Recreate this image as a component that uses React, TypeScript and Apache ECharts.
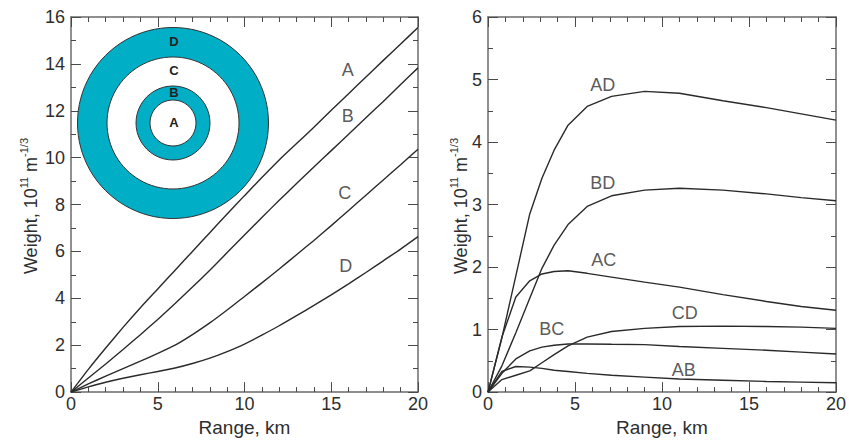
import React, { useEffect, useRef } from "react";
import * as echarts from "echarts";

// ---------- data ----------
const leftX = [0, 1, 2, 3, 4, 5, 6, 7, 8, 9, 10, 11, 12, 13, 14, 15, 16, 17, 18, 19, 20];
const leftA = [0, 0.97, 1.88, 2.76, 3.6, 4.4, 5.2, 6.0, 6.8, 7.6, 8.38, 9.15, 9.9, 10.6, 11.3, 12.02, 12.73, 13.44, 14.15, 14.85, 15.55];
const leftB = [0, 0.6, 1.2, 1.82, 2.45, 3.1, 3.78, 4.48, 5.2, 5.95, 6.7, 7.45, 8.18, 8.9, 9.6, 10.3, 11.0, 11.7, 12.4, 13.12, 13.83];
const leftC = [0, 0.35, 0.68, 1.0, 1.32, 1.65, 2.0, 2.45, 2.95, 3.5, 4.08, 4.66, 5.25, 5.86, 6.47, 7.1, 7.75, 8.4, 9.05, 9.7, 10.36];
const leftD = [0, 0.22, 0.42, 0.59, 0.74, 0.88, 1.03, 1.22, 1.45, 1.73, 2.05, 2.43, 2.83, 3.26, 3.7, 4.15, 4.62, 5.1, 5.6, 6.1, 6.63];

const rightX = [0, 0.8, 1.6, 2.4, 3.1, 3.8, 4.6, 5.7, 7.1, 9.0, 11.0, 13.5, 16.0, 18.0, 20];
const rightAD = [0, 0.87, 1.86, 2.85, 3.42, 3.87, 4.27, 4.57, 4.73, 4.81, 4.78, 4.66, 4.55, 4.45, 4.35];
const rightBD = [0, 0.42, 0.95, 1.5, 1.98, 2.35, 2.68, 2.97, 3.14, 3.23, 3.26, 3.23, 3.17, 3.11, 3.06];
const rightAC = [0, 0.88, 1.52, 1.78, 1.89, 1.93, 1.94, 1.9, 1.84, 1.76, 1.68, 1.56, 1.45, 1.37, 1.31];
const rightBC = [0, 0.3, 0.53, 0.66, 0.72, 0.75, 0.77, 0.77, 0.765, 0.76, 0.73, 0.7, 0.67, 0.64, 0.61];
const rightCD = [0, 0.2, 0.27, 0.34, 0.47, 0.6, 0.74, 0.88, 0.97, 1.02, 1.05, 1.055, 1.05, 1.04, 1.02];
const rightAB = [0, 0.33, 0.41, 0.4, 0.38, 0.35, 0.33, 0.3, 0.27, 0.24, 0.21, 0.19, 0.17, 0.16, 0.15];

const leftLabels = [
  { name: "A", value: [15.95, 13.76] },
  { name: "B", value: [15.95, 11.78] },
  { name: "C", value: [15.78, 8.48] },
  { name: "D", value: [15.84, 5.4] },
];
const rightLabels = [
  { name: "AD", value: [6.6, 4.92] },
  { name: "BD", value: [6.6, 3.34] },
  { name: "AC", value: [6.65, 2.12] },
  { name: "BC", value: [3.66, 1.01] },
  { name: "CD", value: [11.31, 1.27] },
  { name: "AB", value: [11.25, 0.36] },
];

const ringLabels = ["D", "C", "B", "A"];

// ---------- styling ----------
const FONT = "'Liberation Sans', Arial, Helvetica, sans-serif";
const AXIS_COLOR = "#6b6b6b";
const TICK_COLOR = "#4a4a4a";
const TEXT_COLOR = "#2e2e2e";
const LINE_COLOR = "#2a2a2a";
const TEAL = "#00AEC6";

const pair = (xs: number[], ys: number[]) => xs.map((x, i) => [x, ys[i]]);

function xAxisDef(gridIndex: number, position: "top" | "bottom") {
  const bottom = position === "bottom";
  return {
    type: "value",
    gridIndex,
    position,
    min: 0,
    max: 20,
    interval: 5,
    name: bottom ? "Range, km" : "",
    nameLocation: "middle",
    nameGap: 24,
    nameTextStyle: { fontSize: 19, color: TEXT_COLOR, fontFamily: FONT },
    axisLine: { show: true, onZero: false, lineStyle: { color: AXIS_COLOR, width: 1.5 } },
    axisTick: { show: true, inside: true, length: 10, lineStyle: { color: TICK_COLOR, width: 1 } },
    minorTick: { show: true, splitNumber: 5, length: 5, lineStyle: { color: TICK_COLOR, width: 1 } },
    splitLine: { show: false },
    minorSplitLine: { show: false },
    axisLabel: {
      show: bottom,
      margin: 3,
      fontSize: 18,
      color: TEXT_COLOR,
      fontFamily: FONT,
    },
  };
}

function yAxisDef(gridIndex: number, position: "left" | "right", max: number, interval: number) {
  const left = position === "left";
  return {
    type: "value",
    gridIndex,
    position,
    min: 0,
    max,
    interval,
    axisLine: { show: true, onZero: false, lineStyle: { color: AXIS_COLOR, width: 1.5 } },
    axisTick: { show: true, inside: true, length: 10, lineStyle: { color: TICK_COLOR, width: 1 } },
    minorTick: { show: true, splitNumber: 2, length: 5, lineStyle: { color: TICK_COLOR, width: 1 } },
    splitLine: { show: false },
    minorSplitLine: { show: false },
    axisLabel: {
      show: left,
      margin: 6,
      fontSize: 18,
      color: TEXT_COLOR,
      fontFamily: FONT,
    },
  };
}

function lineSeries(name: string, xIdx: number, yIdx: number, data: number[][], smooth: boolean | number) {
  return {
    name,
    type: "line",
    xAxisIndex: xIdx,
    yAxisIndex: yIdx,
    data,
    smooth,
    showSymbol: false,
    symbol: "none",
    silent: true,
    lineStyle: { color: LINE_COLOR, width: 1.4 },
  };
}

function labelSeries(xIdx: number, yIdx: number, data: any[]) {
  return {
    type: "scatter",
    xAxisIndex: xIdx,
    yAxisIndex: yIdx,
    symbolSize: 0,
    silent: true,
    data,
    label: {
      show: true,
      position: "inside",
      formatter: "{b}",
      fontSize: 18,
      color: TEXT_COLOR,
      fontFamily: FONT,
    },
  };
}

function yName(x: number, y: number) {
  return {
    type: "text",
    x,
    y,
    rotation: Math.PI / 2,
    style: {
      text: "{m|Weight, 10}{s|11}{m| m}{s|-1/3}",
      align: "center",
      verticalAlign: "middle",
      fontFamily: FONT,
      rich: {
        m: { fontSize: 18, fill: TEXT_COLOR, fontFamily: FONT, lineHeight: 22, verticalAlign: "bottom" },
        s: { fontSize: 11, fill: TEXT_COLOR, fontFamily: FONT, lineHeight: 22, verticalAlign: "top" },
      },
    },
  };
}

// inset target (decorative illustration)
const ringCx = 173;
const ringCy = 123;
const ringRadii = [95.5, 66, 37, 23];
const ringFills = [TEAL, "#ffffff", TEAL, "#ffffff"];
const ringLabelY = [41, 70, 92, 122];

export default function App() {
  const ref = useRef<HTMLDivElement>(null);

  useEffect(() => {
    if (!ref.current) return;
    const chart = echarts.init(ref.current, undefined, { renderer: "svg" });

    const graphics: any[] = [];
    ringRadii.forEach((r, i) => {
      graphics.push({
        type: "circle",
        shape: { cx: ringCx, cy: ringCy, r },
        style: { fill: ringFills[i], stroke: "#333", lineWidth: 1 },
        z: 10,
      });
    });
    ringLabels.forEach((t, i) => {
      graphics.push({
        type: "text",
        x: ringCx + 1,
        y: ringLabelY[i],
        z: 11,
        style: {
          text: t,
          align: "center",
          verticalAlign: "middle",
          fontSize: 13,
          fontWeight: "bold",
          fill: "#222",
          fontFamily: FONT,
        },
      });
    });
    graphics.push(yName(29, 206));
    graphics.push(yName(459, 206));

    chart.setOption({
      animation: false,
      backgroundColor: "#ffffff",
      grid: [
        { left: 71, top: 17, width: 347, height: 379 },
        { left: 488, top: 17, width: 348, height: 379 },
      ],
      xAxis: [xAxisDef(0, "bottom"), xAxisDef(0, "top"), xAxisDef(1, "bottom"), xAxisDef(1, "top")],
      yAxis: [
        yAxisDef(0, "left", 16, 2),
        yAxisDef(0, "right", 16, 2),
        yAxisDef(1, "left", 6, 1),
        yAxisDef(1, "right", 6, 1),
      ],
      series: [
        lineSeries("A", 0, 0, pair(leftX, leftA), 0.2),
        lineSeries("B", 0, 0, pair(leftX, leftB), 0.2),
        lineSeries("C", 0, 0, pair(leftX, leftC), 0.2),
        lineSeries("D", 0, 0, pair(leftX, leftD), 0.2),
        labelSeries(0, 0, leftLabels),
        lineSeries("AD", 2, 2, pair(rightX, rightAD), false),
        lineSeries("BD", 2, 2, pair(rightX, rightBD), false),
        lineSeries("AC", 2, 2, pair(rightX, rightAC), false),
        lineSeries("BC", 2, 2, pair(rightX, rightBC), false),
        lineSeries("CD", 2, 2, pair(rightX, rightCD), false),
        lineSeries("AB", 2, 2, pair(rightX, rightAB), false),
        labelSeries(2, 2, rightLabels),
      ],
      graphic: graphics,
    });

    return () => chart.dispose();
  }, []);

  return (
    <div
      ref={ref}
      style={{ position: "absolute", left: 0, top: 0, width: 849, height: 442, background: "#fff" }}
    />
  );
}
